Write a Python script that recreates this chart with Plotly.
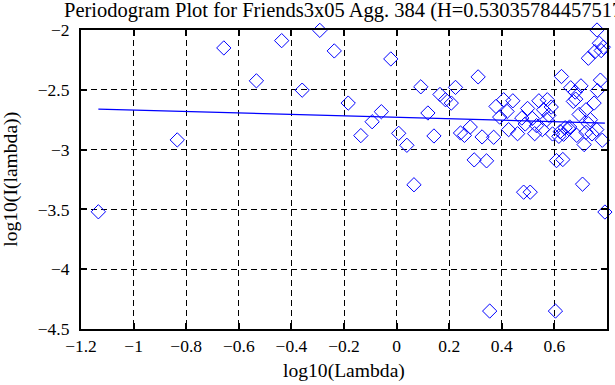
import plotly.graph_objects as go

# Periodogram points (log10(Lambda), log10(I(lambda)))
log_lambda = [
    -1.134, -0.834, -0.657, -0.533, -0.437, -0.359, -0.292, -0.237,
    -0.184, -0.136, -0.093, -0.058, -0.022, 0.008, 0.039, 0.066,
    0.092, 0.119, 0.142, 0.165, 0.186, 0.208, 0.224, 0.243, 0.258,
    0.280, 0.295, 0.310, 0.325, 0.342, 0.354, 0.369, 0.378, 0.392,
    0.407, 0.420, 0.426, 0.442, 0.460, 0.476, 0.483, 0.489, 0.498,
    0.508, 0.516, 0.525, 0.532, 0.541, 0.554, 0.559, 0.571, 0.573,
    0.579, 0.588, 0.593, 0.604, 0.608, 0.617, 0.622, 0.627, 0.632,
    0.635, 0.641, 0.655, 0.658, 0.662, 0.672, 0.679, 0.681, 0.685,
    0.694, 0.701, 0.707, 0.713, 0.720, 0.720, 0.729, 0.729, 0.737,
    0.743, 0.751, 0.754, 0.761, 0.762, 0.764, 0.771, 0.775, 0.778,
    0.782, 0.786, 0.792,
]
log_periodogram = [
    -3.520, -2.919, -2.150, -2.425, -2.089, -2.503, -2.003, -2.175,
    -2.611, -2.883, -2.767, -2.683, -2.242, -2.864, -2.964, -3.294,
    -2.475, -2.694, -2.886, -2.539, -2.583, -2.611, -2.480, -2.861, -2.881,
    -2.811, -3.086, -2.392, -2.894, -3.094, -4.350, -2.897, -2.639, -2.728,
    -2.583, -2.681, -2.833, -2.592, -2.867, -2.736, -3.356, -2.786, -2.656,
    -3.356, -2.739, -2.867, -2.800, -2.592, -2.833, -2.667, -2.750, -2.583,
    -2.714, -2.644, -2.869, -4.350, -3.092, -2.889, -2.850, -2.389, -3.083,
    -2.872, -2.817, -2.825, -2.811, -2.483, -2.597, -2.519, -2.578, -2.881,
    -2.706, -2.467, -3.289, -2.958, -2.667, -2.856, -2.236, -2.783, -2.750,
    -2.869, -2.611, -2.181, -2.833, -2.000, -2.506, -2.111, -2.419, -2.172,
    -2.922, -2.144, -3.522,
]

# Least-squares fit parameters (slope = 1 - 2H)
H_value = 0.530357844575172
fit_slope = 1 - 2 * H_value
fit_intercept = -2.730

fit_x = [min(log_lambda), max(log_lambda)]
fit_y = [fit_intercept + fit_slope * v for v in fit_x]

title_text = "Periodogram Plot for Friends3x05 Agg. 384 (H=0.530357844575172)"
x_title = "log10(Lambda)"
y_title = "log10(I(lambda))"

BLUE = "rgb(0,0,255)"
FONT = "Liberation Serif, Times New Roman, serif"

fig = go.Figure()
fig.add_trace(go.Scatter(
    x=log_lambda, y=log_periodogram, mode="markers",
    marker=dict(symbol="diamond-open", size=11, color=BLUE, line=dict(width=1, color=BLUE)),
    showlegend=False, cliponaxis=False, hoverinfo="skip",
))
fig.add_trace(go.Scatter(
    x=fit_x, y=fit_y, mode="lines",
    line=dict(color=BLUE, width=1.2), showlegend=False, hoverinfo="skip",
))

axis_common = dict(
    showline=True, linecolor="black", linewidth=2, mirror="ticks",
    ticks="inside", ticklen=6, tickwidth=2, tickcolor="black",
    showgrid=True, gridcolor="black", gridwidth=1, griddash="6px,4px",
    zeroline=False, tickfont=dict(family=FONT, size=17.5, color="black"),
)

fig.update_layout(
    width=615, height=385,
    margin=dict(l=81, r=6, t=30, b=56),
    paper_bgcolor="white", plot_bgcolor="white",
    font=dict(family=FONT, size=17.5, color="black"),
    title=dict(text=title_text, xref="container", x=64 / 615, xanchor="left",
               yref="container", y=0.994, yanchor="top", pad=dict(l=0, r=0, t=0, b=0),
               font=dict(family=FONT, size=20.5, color="black")),
    xaxis=dict(range=[-1.2, 0.8], dtick=0.2, tick0=0,
               **axis_common),
    yaxis=dict(range=[-4.5, -2], dtick=0.5, tick0=0,
               ticklabelstandoff=6,
               **axis_common),
    annotations=[
        dict(text=x_title, xref="paper", x=0.5, xanchor="center",
             yref="paper", y=-0.14, yanchor="middle", showarrow=False,
             font=dict(family=FONT, size=19.6, color="black")),
        dict(text=y_title, xref="paper", x=-71 / 528, xanchor="center",
             yref="paper", y=0.5, yanchor="middle", showarrow=False, textangle=-90,
             font=dict(family=FONT, size=19.6, color="black")),
    ],
)

fig.write_html(
    "out.html",
    config={"displayModeBar": False},
    post_script="document.body.style.margin='0';document.body.style.padding='0';"
                "document.body.style.overflow='hidden';",
)
